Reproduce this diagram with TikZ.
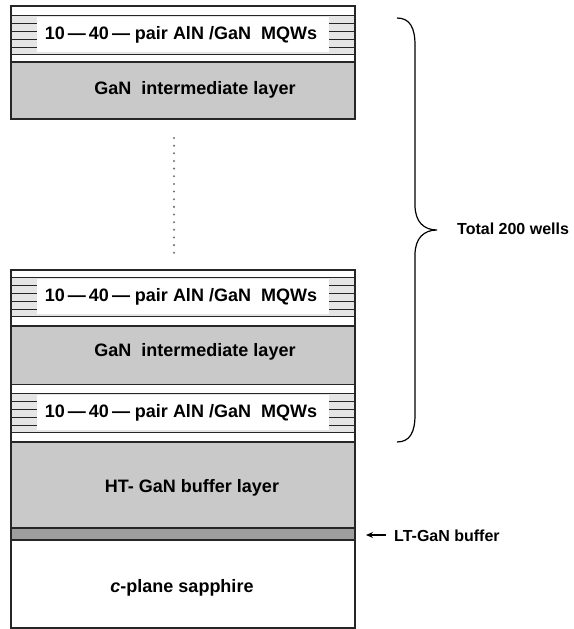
\documentclass[tikz,border=0pt]{standalone}
\usepackage{fontspec}
\setmainfont{Liberation Sans}
\usetikzlibrary{arrows.meta}
\begin{document}
\begin{tikzpicture}[x=1pt,y=-1pt,
  lbl/.style={font=\fontsize{18}{20}\selectfont\bfseries, inner sep=0pt},
  side/.style={font=\fontsize{16}{18}\selectfont\bfseries, inner sep=0pt},
  layline/.style={line width=0.9pt, draw=black!85},
  heavyline/.style={line width=1.6pt, draw=black!85},
  ganfill/.style={fill=black!21},
  ltfill/.style={fill=black!38},
  mqwbg/.style={fill=black!10}]
\useasboundingbox (0,0) rectangle (573,629);
\newcommand\mqwband[2]{%
  \fill[mqwbg] (11,#1) rectangle (355,{#1+39});
  \fill[white] (37,{#1+2}) rectangle (329,{#1+37});
  \foreach \d in {8,16,24,32} {
    \draw[layline] (11,{#1+\d}) -- (37,{#1+\d});
    \draw[layline] (329,{#1+\d}) -- (355,{#1+\d});
  }
  \draw[layline] (11,#1) -- (355,#1);
  \draw[layline] (11,{#1+39}) -- (355,{#1+39});
  \node[lbl] (#2) at (181,{#1+20}) {10\,—\,40\,— pair AlN /GaN \ MQWs};
}
% ---------- top stack ----------
\fill[white] (11,6) rectangle (355,62);
\mqwband{15}{mqwA}
\fill[ganfill] (11,62) rectangle (355,119);
\draw[heavyline] (11,62) -- (355,62);
\node[lbl] (ganA) at (195,90) {GaN \ intermediate layer};
\draw[line width=1.1pt, draw=black!85] (11,6) rectangle (355,119);
% dots
\coordinate (dotTop) at (174,138);
\coordinate (dotBot) at (174,253);
\draw[line width=2.3pt, black!55, line cap=round, dash pattern=on 0pt off 7.65pt] (dotTop) -- (dotBot);
% ---------- lower stack ----------
\fill[white] (11,270) rectangle (355,442);
\mqwband{277}{mqwB}
\fill[ganfill] (11,326) rectangle (355,384);
\draw[heavyline] (11,326) -- (355,326);
\draw[layline] (11,384) -- (355,384);
\node[lbl] (ganB) at (195,352) {GaN \ intermediate layer};
\mqwband{393}{mqwC}
\fill[ganfill] (11,442) rectangle (355,528);
\draw[heavyline] (11,442) -- (355,442);
\node[lbl] (ht) at (192,488) {HT- GaN buffer layer};
\fill[ltfill] (11,528) rectangle (355,540);
\draw[line width=1.2pt, draw=black!85] (11,528) -- (355,528);
\draw[line width=1.2pt, draw=black!85] (11,540) -- (355,540);
\node[lbl] (sap) at (182,588) {\textit{c}-plane sapphire};
\draw[line width=1.1pt, draw=black!85] (11,270) rectangle (355,628);
% ---------- LT-GaN label ----------
\coordinate (ltTip) at (366,535);
\node[side, anchor=west] (lt) at (394,536) {LT-GaN buffer};
\draw[line width=1.2pt, -{Stealth[length=7pt,width=6pt]}] (386,535) -- (ltTip);
% ---------- brace ----------
\coordinate (brTop) at (397,18);
\coordinate (brTip) at (437,230);
\coordinate (brBot) at (397,442);
\draw[line width=1.2pt] (brTop) .. controls (410,18) and (415,28) .. (415,45)
  -- (415,205) .. controls (415,222) and (424,230) .. (brTip)
  .. controls (424,230) and (415,238) .. (415,255)
  -- (415,415) .. controls (415,432) and (410,442) .. (brBot);
\node[side, anchor=west] (total) at (457,229) {Total 200 wells};
\end{tikzpicture}
\end{document}
